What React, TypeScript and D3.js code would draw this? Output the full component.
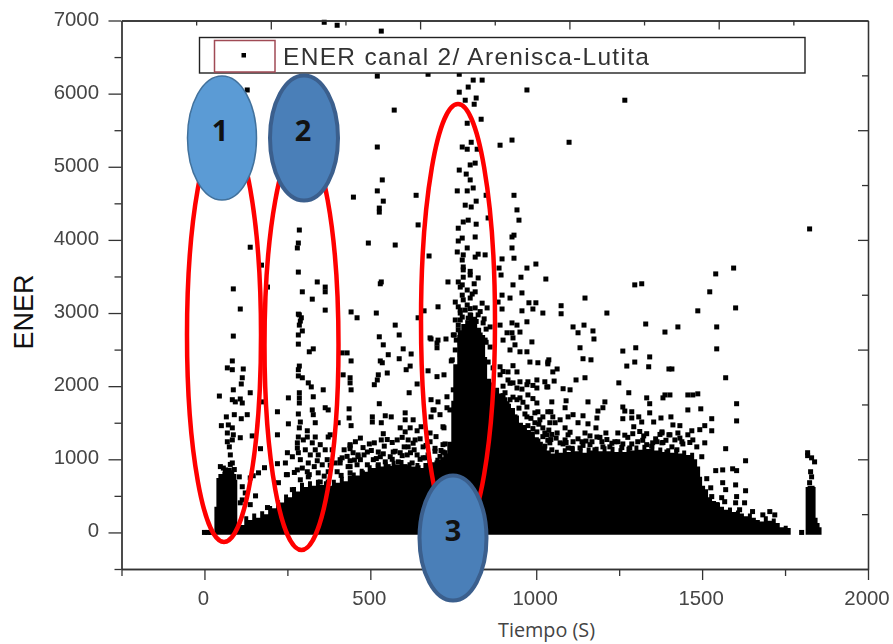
// ENER vs Tiempo scatter, canal 2, with the three annotated zones on top
import { useEffect, useRef } from 'react';
import * as d3 from 'd3';

type Pt = [number, number];

// top of the solid black band (time, energy)
const massTimes = [30, 36, 42, 54, 66, 78, 90, 96, 99, 108, 120, 132, 144, 156, 168, 180, 192, 204, 216, 228, 240, 252, 264, 276, 288, 300, 312, 324, 336, 348, 360, 372, 384, 396, 408, 420, 432, 444, 456, 468, 480, 492, 504, 516, 528, 540, 552, 564, 576, 588, 600, 612, 624, 636, 648, 660, 672, 684, 696, 708, 720, 732, 744, 750, 762, 774, 786, 798, 810, 822, 834, 846, 852, 864, 876, 888, 900, 912, 924, 936, 948, 960, 972, 984, 996, 1008, 1020, 1032, 1044, 1056, 1068, 1080, 1092, 1104, 1116, 1128, 1140, 1152, 1164, 1176, 1188, 1200, 1212, 1224, 1236, 1248, 1260, 1272, 1284, 1296, 1308, 1320, 1332, 1344, 1356, 1368, 1380, 1392, 1404, 1416, 1428, 1440, 1452, 1464, 1476, 1485, 1494, 1500, 1509, 1518, 1530, 1542, 1554, 1566, 1578, 1590, 1602, 1614, 1626, 1638, 1650, 1662, 1674, 1686, 1698, 1710, 1722, 1734, 1746, 1758, 1767];
const massTops = [350, 745, 800, 830, 860, 850, 800, 720, 120, 100, 220, 170, 260, 200, 290, 250, 360, 330, 440, 410, 520, 480, 620, 560, 680, 620, 700, 640, 720, 650, 700, 640, 720, 680, 760, 700, 780, 820, 780, 870, 830, 920, 880, 940, 900, 960, 910, 980, 930, 990, 920, 960, 900, 950, 880, 950, 1000, 960, 1020, 1000, 1080, 1240, 1800, 2300, 2700, 2850, 2900, 3000, 2950, 2800, 2700, 2400, 2100, 2050, 1980, 1900, 1850, 1760, 1700, 1600, 1500, 1470, 1400, 1380, 1300, 1240, 1180, 1120, 1080, 1130, 1090, 1150, 1100, 1170, 1110, 1150, 1090, 1160, 1120, 1170, 1110, 1180, 1110, 1170, 1100, 1150, 1100, 1170, 1120, 1190, 1130, 1200, 1140, 1190, 1120, 1160, 1100, 1150, 1090, 1140, 1080, 1120, 1060, 1090, 1000, 900, 760, 640, 590, 480, 430, 410, 350, 310, 340, 280, 300, 260, 220, 260, 200, 170, 150, 220, 160, 190, 130, 70, 90, 60, 0];

// the short burst near the end of the test
const burstTimes = [1812, 1818, 1830, 1839, 1842, 1848, 1854, 1860];
const burstTops = [620, 640, 640, 620, 200, 130, 70, 0];

const upperPoints: Pt[] = [
  [361, 6976], [400, 6935], [533, 6855], [521, 6240], [674, 6265], [768, 6265], [129, 6050], [572, 5775], [521, 5270], [536, 4820],
  [521, 4670], [449, 4585], [539, 4530], [527, 4435], [527, 4380], [638, 4610], [644, 4205], [286, 4135], [283, 3957], [280, 3890],
  [138, 3900], [494, 3957], [575, 3930], [172, 3655], [677, 3780], [283, 3560], [340, 3425], [364, 3355], [364, 3290], [533, 3425],
  [530, 3400], [734, 3425], [87, 3330], [295, 3290], [325, 3190], [190, 3355], [108, 3055], [364, 3040], [283, 2985], [292, 2935],
  [442, 3015], [518, 3000], [460, 2935], [644, 2935], [662, 3030], [704, 3085],
];

const spikePoints: Pt[] = [
  [810, 6185], [837, 6185], [795, 6090], [768, 6020], [786, 5910], [819, 5940], [813, 5855], [972, 6050], [1267, 5910], [834, 5650],
  [792, 5595], [927, 5365], [891, 5295], [1099, 5335], [804, 5335], [777, 5270], [792, 5240], [822, 5240], [816, 5050], [801, 5025],
  [768, 4955], [789, 4900], [801, 4820], [762, 4670], [792, 4670], [810, 4710], [849, 4610], [819, 4530], [786, 4475], [804, 4450],
  [933, 4610], [942, 4410], [948, 4270], [855, 4300], [795, 4270], [780, 4245], [819, 4215], [765, 4160], [933, 4065], [927, 4040],
  [816, 4040], [777, 4025], [765, 3985], [927, 3890], [792, 3890], [762, 3835], [933, 3750], [897, 3740], [780, 3795], [825, 3805],
  [846, 3795], [816, 3765], [999, 3670], [972, 3615], [888, 3615], [780, 3630], [894, 3520], [954, 3490], [1029, 3465], [930, 3385],
  [957, 3275], [1147, 3205], [1297, 3385], [1318, 3400], [1595, 3615], [1541, 3535], [1523, 3290], [1824, 4150], [1487, 3030], [1601, 3070],
  [1213, 3000], [1075, 3100], [1075, 2990], [1020, 3000], [990, 3055], [957, 3030], [978, 3140], [999, 3140], [897, 3055], [921, 3205],
  [897, 3245], [885, 3150], [765, 3425], [780, 3490], [801, 3520], [825, 3480], [771, 3355], [792, 3315], [816, 3290], [756, 3150],
  [780, 3180], [801, 3205], [837, 3135], [852, 3070], [786, 3040], [771, 3000], [801, 2975], [765, 3085], [816, 3070], [777, 2945],
  [765, 2835], [786, 2795], [807, 2770], [840, 2865], [861, 2810], [771, 2730], [750, 2700], [831, 2700], [792, 2605], [816, 2590],
  [846, 2630], [861, 2535], [771, 2590], [756, 2495], [801, 2495], [837, 2470], [747, 2360], [855, 2330], [771, 2430], [822, 2400],
  [786, 2700], [825, 2975], [756, 2905], [807, 2905], [792, 3110], [831, 2495], [780, 2495],
  [759, 2630], [783, 2660], [807, 2620], [825, 2640], [849, 2600], [765, 2770], [789, 2790], [825, 2750], [849, 2780], [771, 2905],
  [795, 2930], [819, 2885], [843, 2920], [771, 3040], [801, 3060], [831, 3020], [777, 3245], [807, 3260], [777, 3385], [813, 3400],
  [780, 3590], [801, 3570], [777, 3725],
];

const onsetPoints: Pt[] = [
  [0, 0], [10, 0], [20, 0], [87, 2685], [84, 2345], [69, 2250], [84, 2225], [117, 2235], [114, 2115], [111, 2030], [87, 1950],
  [138, 1910], [45, 1865], [84, 1815], [108, 1825], [93, 1785], [114, 1770], [178, 1785], [66, 1580], [90, 1610], [129, 1610],
  [111, 1555], [51, 1460], [84, 1430], [69, 1360], [87, 1335], [108, 1295], [144, 1320], [69, 1240], [75, 1170], [169, 1145],
  [78, 1060], [84, 950], [48, 900], [63, 855], [105, 760], [181, 885], [163, 815], [147, 775], [138, 745], [220, 940], [244, 950],
  [247, 790], [114, 625], [154, 500], [138, 380], [114, 445], [190, 340], [123, 540], [108, 405], [84, 1265], [72, 1470],
  [57, 880], [75, 850], [90, 860], [78, 930],
];

const secondPoints: Pt[] = [
  [286, 2975], [289, 2890], [286, 2835], [295, 2755], [283, 2700], [283, 2575], [328, 2510], [316, 2470], [286, 2275], [283, 2225],
  [283, 2140], [295, 2115], [313, 2045], [322, 1990], [358, 1950], [286, 1910], [286, 1840], [286, 1770], [253, 1840], [328, 1855],
  [220, 1650], [283, 1620], [325, 1675], [328, 1610], [364, 1705], [373, 1675], [253, 1485], [334, 1500], [289, 1510], [286, 1430],
  [310, 1390], [373, 1305], [220, 1335], [283, 1305], [310, 1305], [334, 1305], [280, 1225], [325, 1225], [280, 1155], [334, 1130],
  [343, 1060], [250, 1090], [265, 1035], [283, 1090], [289, 995], [313, 950], [340, 980], [370, 995], [280, 855], [310, 830],
  [343, 815], [373, 830], [289, 720], [313, 760], [373, 690], [349, 690], [250, 790], [223, 680], [265, 585], [298, 1265],
  [349, 1200], [364, 1130], [304, 1130], [319, 1060], [355, 925], [403, 1500], [439, 1185], [463, 1035], [439, 900], [409, 995],
  [385, 1130], [379, 1335], [271, 820], [295, 880], [316, 790], [331, 900], [361, 770], [379, 920], [400, 830], [412, 780],
];

const middlePoints: Pt[] = [
  [575, 2835], [527, 2675], [587, 2700], [539, 2565], [599, 2510], [683, 2645], [728, 2645], [701, 2590], [701, 2525], [753, 2700],
  [415, 2455], [430, 2455], [442, 2345], [554, 2430], [623, 2440], [587, 2375], [530, 2345], [536, 2320], [744, 2345], [620, 2275],
  [608, 2225], [551, 2180], [674, 2210], [418, 2155], [701, 2130], [722, 2155], [524, 2155], [439, 2115], [439, 2045], [521, 2085],
  [512, 2020], [641, 2030], [442, 1950], [617, 1910], [750, 1950], [527, 1760], [683, 1815], [704, 1785], [731, 1855], [436, 1690],
  [692, 1675], [731, 1705], [436, 1565], [506, 1580], [506, 1510], [545, 1595], [563, 1580], [605, 1635], [683, 1580], [605, 1540],
  [629, 1540], [533, 1500], [442, 1460], [590, 1430], [620, 1430], [653, 1445], [719, 1445], [605, 1375], [539, 1350], [641, 1390],
  [581, 1265], [533, 1265], [512, 1225], [614, 1265], [635, 1265], [439, 1200], [439, 1145], [725, 1210], [614, 1170], [659, 1170],
  [569, 1100], [491, 1100], [524, 1100], [590, 1090], [463, 1060], [719, 1100], [611, 1060], [641, 1060], [415, 1020], [530, 1035],
  [560, 1035], [659, 1020], [439, 980], [409, 950], [470, 995], [509, 995], [545, 965], [584, 965], [626, 950], [719, 995],
  [394, 950], [433, 900], [460, 925], [491, 925], [524, 925], [554, 900], [605, 900], [644, 885], [680, 855], [439, 815],
  [476, 815], [509, 790], [680, 2660], [704, 2630], [689, 1675], [740, 1675], [722, 1430], [680, 1360], [719, 1200], [665, 1020],
  [701, 950], [710, 1610],
  [430, 1040], [452, 990], [481, 1060], [518, 1010], [539, 1075], [566, 1000], [596, 1050], [621, 1090], [650, 1000], [674, 1060], [695, 1110], [710, 1040], [725, 1090],
  [421, 1130], [448, 1090], [478, 1160], [503, 1120], [542, 1180], [575, 1110], [602, 1170], [632, 1130], [668, 1190], [695, 1150], [713, 1120],
  [455, 1240], [470, 1290], [497, 1210], [551, 1270], [566, 1230], [596, 1300], [629, 1220], [650, 1280], [680, 1240], [698, 1310],
];

const rightPoints: Pt[] = [
  [927, 2865], [942, 2835], [972, 2880], [891, 2835], [912, 2730], [927, 2730], [951, 2740], [900, 2630], [930, 2660], [987, 2605],
  [936, 2565], [921, 2495], [951, 2470], [972, 2470], [981, 2330], [1005, 2320], [1035, 2330], [891, 2265], [915, 2195], [942, 2195],
  [891, 2155], [915, 2085], [930, 2045], [951, 2060], [975, 2060], [1002, 2085], [1026, 2060], [1002, 1975], [906, 1910], [942, 1975],
  [972, 2020], [1035, 1990], [951, 1840], [975, 1880], [1002, 1770], [1035, 1650], [996, 1635], [972, 1715], [942, 1815], [921, 1815],
  [1011, 1540], [996, 1500], [972, 1580], [1026, 1360], [1002, 1375], [1330, 2850], [1111, 2810], [1144, 2835], [1171, 2755], [1126, 2730],
  [1388, 2740], [1174, 2645], [1132, 2525], [1261, 2480], [1300, 2525], [1342, 2400], [1141, 2375], [1165, 2360], [1297, 2330], [1273, 2275],
  [1339, 2265], [1400, 2235], [1038, 2360], [1035, 2305], [1063, 2235], [1050, 2195], [1147, 2115], [1120, 2085], [1054, 2070], [1032, 1990],
  [1249, 2045], [1081, 1965], [1102, 1950], [1279, 1910], [1333, 1840], [1388, 1880], [1382, 1840], [1047, 1785], [1090, 1800], [1156, 1785],
  [1207, 1785], [1342, 1760], [1261, 1715], [1201, 1705], [1186, 1660], [1087, 1705], [1267, 1660], [1288, 1650], [1342, 1635], [1044, 1650],
  [1111, 1610], [1141, 1595], [1050, 1580], [1183, 1565], [1261, 1555], [1288, 1565], [1309, 1580], [1376, 1565], [1318, 1510], [1354, 1510],
  [1072, 1540], [1096, 1580], [1126, 1500], [1156, 1485], [1180, 1430], [1294, 1445], [1041, 1500], [1057, 1500], [1020, 1430], [1087, 1430],
  [1147, 1360], [1246, 1360], [1291, 1350], [1333, 1350], [1379, 1360], [1400, 1335], [1032, 1335], [1063, 1360], [1096, 1335], [1087, 1265],
  [1183, 1305], [1306, 1240], [1138, 1240], [1364, 1240], [1237, 1240], [1261, 1210], [1198, 1240], [1333, 1200], [1351, 1225], [1111, 1240],
  [1041, 1225], [1072, 1225], [1162, 1200], [1222, 1170], [1394, 1100], [1177, 1130], [1282, 1155], [1132, 1155], [1096, 1155],
  [1026, 1180], [1047, 1130], [1081, 1210], [1108, 1150], [1141, 1190], [1168, 1240], [1201, 1170], [1228, 1220], [1258, 1160], [1288, 1210], [1321, 1260], [1348, 1180], [1382, 1230], [1409, 1170], [1442, 1210],
  [1035, 1260], [1060, 1290], [1090, 1230], [1126, 1280], [1150, 1250], [1192, 1300], [1213, 1270], [1246, 1240], [1276, 1300], [1324, 1320], [1360, 1280], [1391, 1260], [1433, 1290], [1463, 1230],
  [1047, 1340], [1102, 1370], [1162, 1320], [1210, 1360], [1267, 1330], [1312, 1380], [1373, 1340], [1427, 1360],
  [885, 1800], [900, 1870], [912, 1760], [930, 1850], [960, 1780], [990, 1830], [900, 1600], [918, 1660], [936, 1580], [948, 1700], [966, 1620], [984, 1560], [1005, 1650], [1020, 1580],
  [960, 1400], [975, 1460], [990, 1420], [1008, 1480], [1038, 1400], [1005, 1250], [1020, 1310], [1044, 1270],
  [900, 2000], [921, 2040], [957, 1960], [990, 2010], [870, 2250], [900, 2200], [930, 2280],
];

const tailPoints: Pt[] = [
  [1427, 2810], [1544, 2810], [1544, 2510], [1409, 2235], [1571, 2115], [1403, 1880], [1457, 1880], [1472, 1880], [1487, 1895], [1604, 1760],
  [1457, 1675], [1496, 1690], [1604, 1525], [1529, 1555], [1406, 1580], [1529, 1390], [1412, 1470], [1433, 1460], [1508, 1460], [1493, 1405],
  [1469, 1390], [1457, 1335], [1379, 1375], [1403, 1335], [1418, 1265], [1439, 1240], [1472, 1265], [1508, 1225], [1379, 1225], [1484, 1170],
  [1424, 1130], [1499, 1035], [1571, 1145], [1631, 980], [1541, 845], [1562, 855], [1592, 870], [1604, 845], [1562, 680], [1601, 650],
  [1631, 570], [1571, 585], [1526, 610], [1514, 735], [1559, 475], [1529, 490], [1604, 490], [1601, 405], [1628, 405], [1568, 420],
  [1652, 285], [1544, 380], [1613, 310], [1704, 285], [1719, 240], [1683, 240], [1800, 0],
  [1818, 1090], [1830, 1020], [1827, 830], [1830, 760], [1824, 680], [1818, 1050], [1839, 965],
];

const allPoints = [...upperPoints, ...spikePoints, ...onsetPoints, ...secondPoints, ...middlePoints, ...rightPoints, ...tailPoints];

const xMajor = [0, 500, 1000, 1500, 2000];
const xMinor = [-250, 250, 750, 1250, 1750];
const yMajor = [0, 1000, 2000, 3000, 4000, 5000, 6000, 7000];
const yMinor = [-500, 500, 1500, 2500, 3500, 4500, 5500, 6500];
const frameMajor = [2, 4, 6, 8];
const frameMinor = [1, 3, 5, 7, 9];

const legendLabel = 'ENER canal 2/ Arenisca-Lutita';
const FONT = '"Liberation Sans", Arial, sans-serif';
const AXIS_COLOR = '#333';

const x = d3.scaleLinear().domain([-250, 2000]).range([121.5, 868]);
const y = d3.scaleLinear().domain([-500, 7000]).range([569, 20.5]);
// the top and right edges carry their own evenly spaced ticks, not the data scale
const topEdge = d3.scaleLinear().domain([0, 10]).range([121.5, 868]);
const rightEdge = d3.scaleLinear().domain([0, 10]).range([20.5, 569]);

const MARK = 5;
const MASS_FLOOR = -30;

export default function App() {
  const axesRef = useRef<SVGGElement>(null);

  useEffect(() => {
    const g = d3.select(axesRef.current);
    g.selectAll('*').remove();

    const draw = (axis: any, dx: number, dy: number) => {
      const sel = g.append('g').attr('transform', `translate(${dx},${dy})`).call(axis);
      sel.selectAll('path, line').attr('stroke', AXIS_COLOR).attr('stroke-width', 1.3);
      sel.selectAll('text').remove();
      return sel;
    };

    draw(d3.axisBottom(x).tickValues(xMajor).tickSize(11).tickSizeOuter(0), 0, 569);
    draw(d3.axisBottom(x).tickValues(xMinor).tickSize(7).tickSizeOuter(0), 0, 569);
    draw(d3.axisLeft(y).tickValues(yMajor).tickSize(13).tickSizeOuter(0), 121.5, 0);
    draw(d3.axisLeft(y).tickValues(yMinor).tickSize(7).tickSizeOuter(0), 121.5, 0);
    draw(d3.axisTop(topEdge).tickValues(frameMajor).tickSize(-9).tickSizeOuter(0), 0, 20.5);
    draw(d3.axisTop(topEdge).tickValues(frameMinor).tickSize(-5).tickSizeOuter(0), 0, 20.5);
    draw(d3.axisRight(rightEdge).tickValues(frameMajor).tickSize(-10).tickSizeOuter(0), 868, 0);
    draw(d3.axisRight(rightEdge).tickValues(frameMinor).tickSize(-6).tickSizeOuter(0), 868, 0);
  }, []);

  const mass = d3.area<number>()
    .x(d => x(d))
    .y0(y(MASS_FLOOR))
    .y1((_, i) => y(massTops[i]))
    .curve(d3.curveStepAfter);
  const burst = d3.area<number>()
    .x(d => x(d))
    .y0(y(MASS_FLOOR))
    .y1((_, i) => y(burstTops[i]))
    .curve(d3.curveStepAfter);

  return (
    <svg width={893} height={644} style={{ position: 'absolute', left: 0, top: 0, background: '#fff' }}>
      <defs>
        <filter id="soft" x="-5%" y="-5%" width="110%" height="110%">
          <feGaussianBlur stdDeviation="0.35" />
        </filter>
      </defs>

      <g filter="url(#soft)">
        <path d={mass(massTimes) ?? ''} fill="#000" />
        <path d={burst(burstTimes) ?? ''} fill="#000" />
        {allPoints.map(([t, e], i) => (
          <rect key={i} x={x(t) - MARK / 2} y={y(e) - MARK / 2} width={MARK} height={MARK} fill="#000" />
        ))}
      </g>

      <g ref={axesRef} />

      <g fontFamily={FONT} fontSize={20.4} fill="#444" filter="url(#soft)">
        {yMajor.map(v => (
          <text key={v} x={99} y={y(v) + 5} textAnchor="end">{v}</text>
        ))}
        {xMajor.map(v => (
          <text key={v} x={x(v) - 1} y={605} textAnchor="middle">{v}</text>
        ))}
      </g>

      <text transform="translate(33,312) rotate(-90)" textAnchor="middle" fontFamily={FONT} fontSize={27} fill="#111">ENER</text>
      <text x={498} y={637} fontFamily='"Open Sans", sans-serif' fontSize={19.8} fontWeight={500} fill="#444">Tiempo (S)</text>

      {/* legend */}
      <rect x={199.5} y={37.5} width={605.5} height={35.5} fill="#fff" stroke="#222" strokeWidth={1.4} />
      <rect x={214.5} y={40.5} width={60.5} height={31.5} fill="#fff" stroke="#a04a55" strokeWidth={1.5} />
      <rect x={241.5} y={53} width={MARK - 0.5} height={MARK - 0.5} fill="#000" />
      <text x={283} y={65} fontFamily={FONT} fontSize={24.5} letterSpacing={1.3} fill="#333" filter="url(#soft)">{legendLabel}</text>

      {/* zones marked by hand on the plot */}
      <g fill="none" stroke="#ff0000" strokeWidth={4.5}>
        <ellipse cx={224} cy={335} rx={37} ry={207} />
        <ellipse cx={301.5} cy={345} rx={37} ry={205} />
        <ellipse cx={458} cy={321} rx={37} ry={217} />
      </g>
      <ellipse cx={222} cy={138} rx={34.5} ry={62} fill="#5b9bd5" stroke="#41719c" strokeWidth={1.5} />
      <ellipse cx={304} cy={138} rx={34} ry={62.5} fill="#4a7fb8" stroke="#3b5f8d" strokeWidth={4} />
      <ellipse cx={453} cy={538} rx={33.5} ry={62.5} fill="#4a7fb8" stroke="#3b5f8d" strokeWidth={4} />
      <g fontFamily='"Open Sans", sans-serif' fontWeight={700} fontSize={29} fill="#111" textAnchor="middle">
        <text x={220} y={141}>1</text>
        <text x={303} y={141}>2</text>
        <text x={453} y={541}>3</text>
      </g>
    </svg>
  );
}
